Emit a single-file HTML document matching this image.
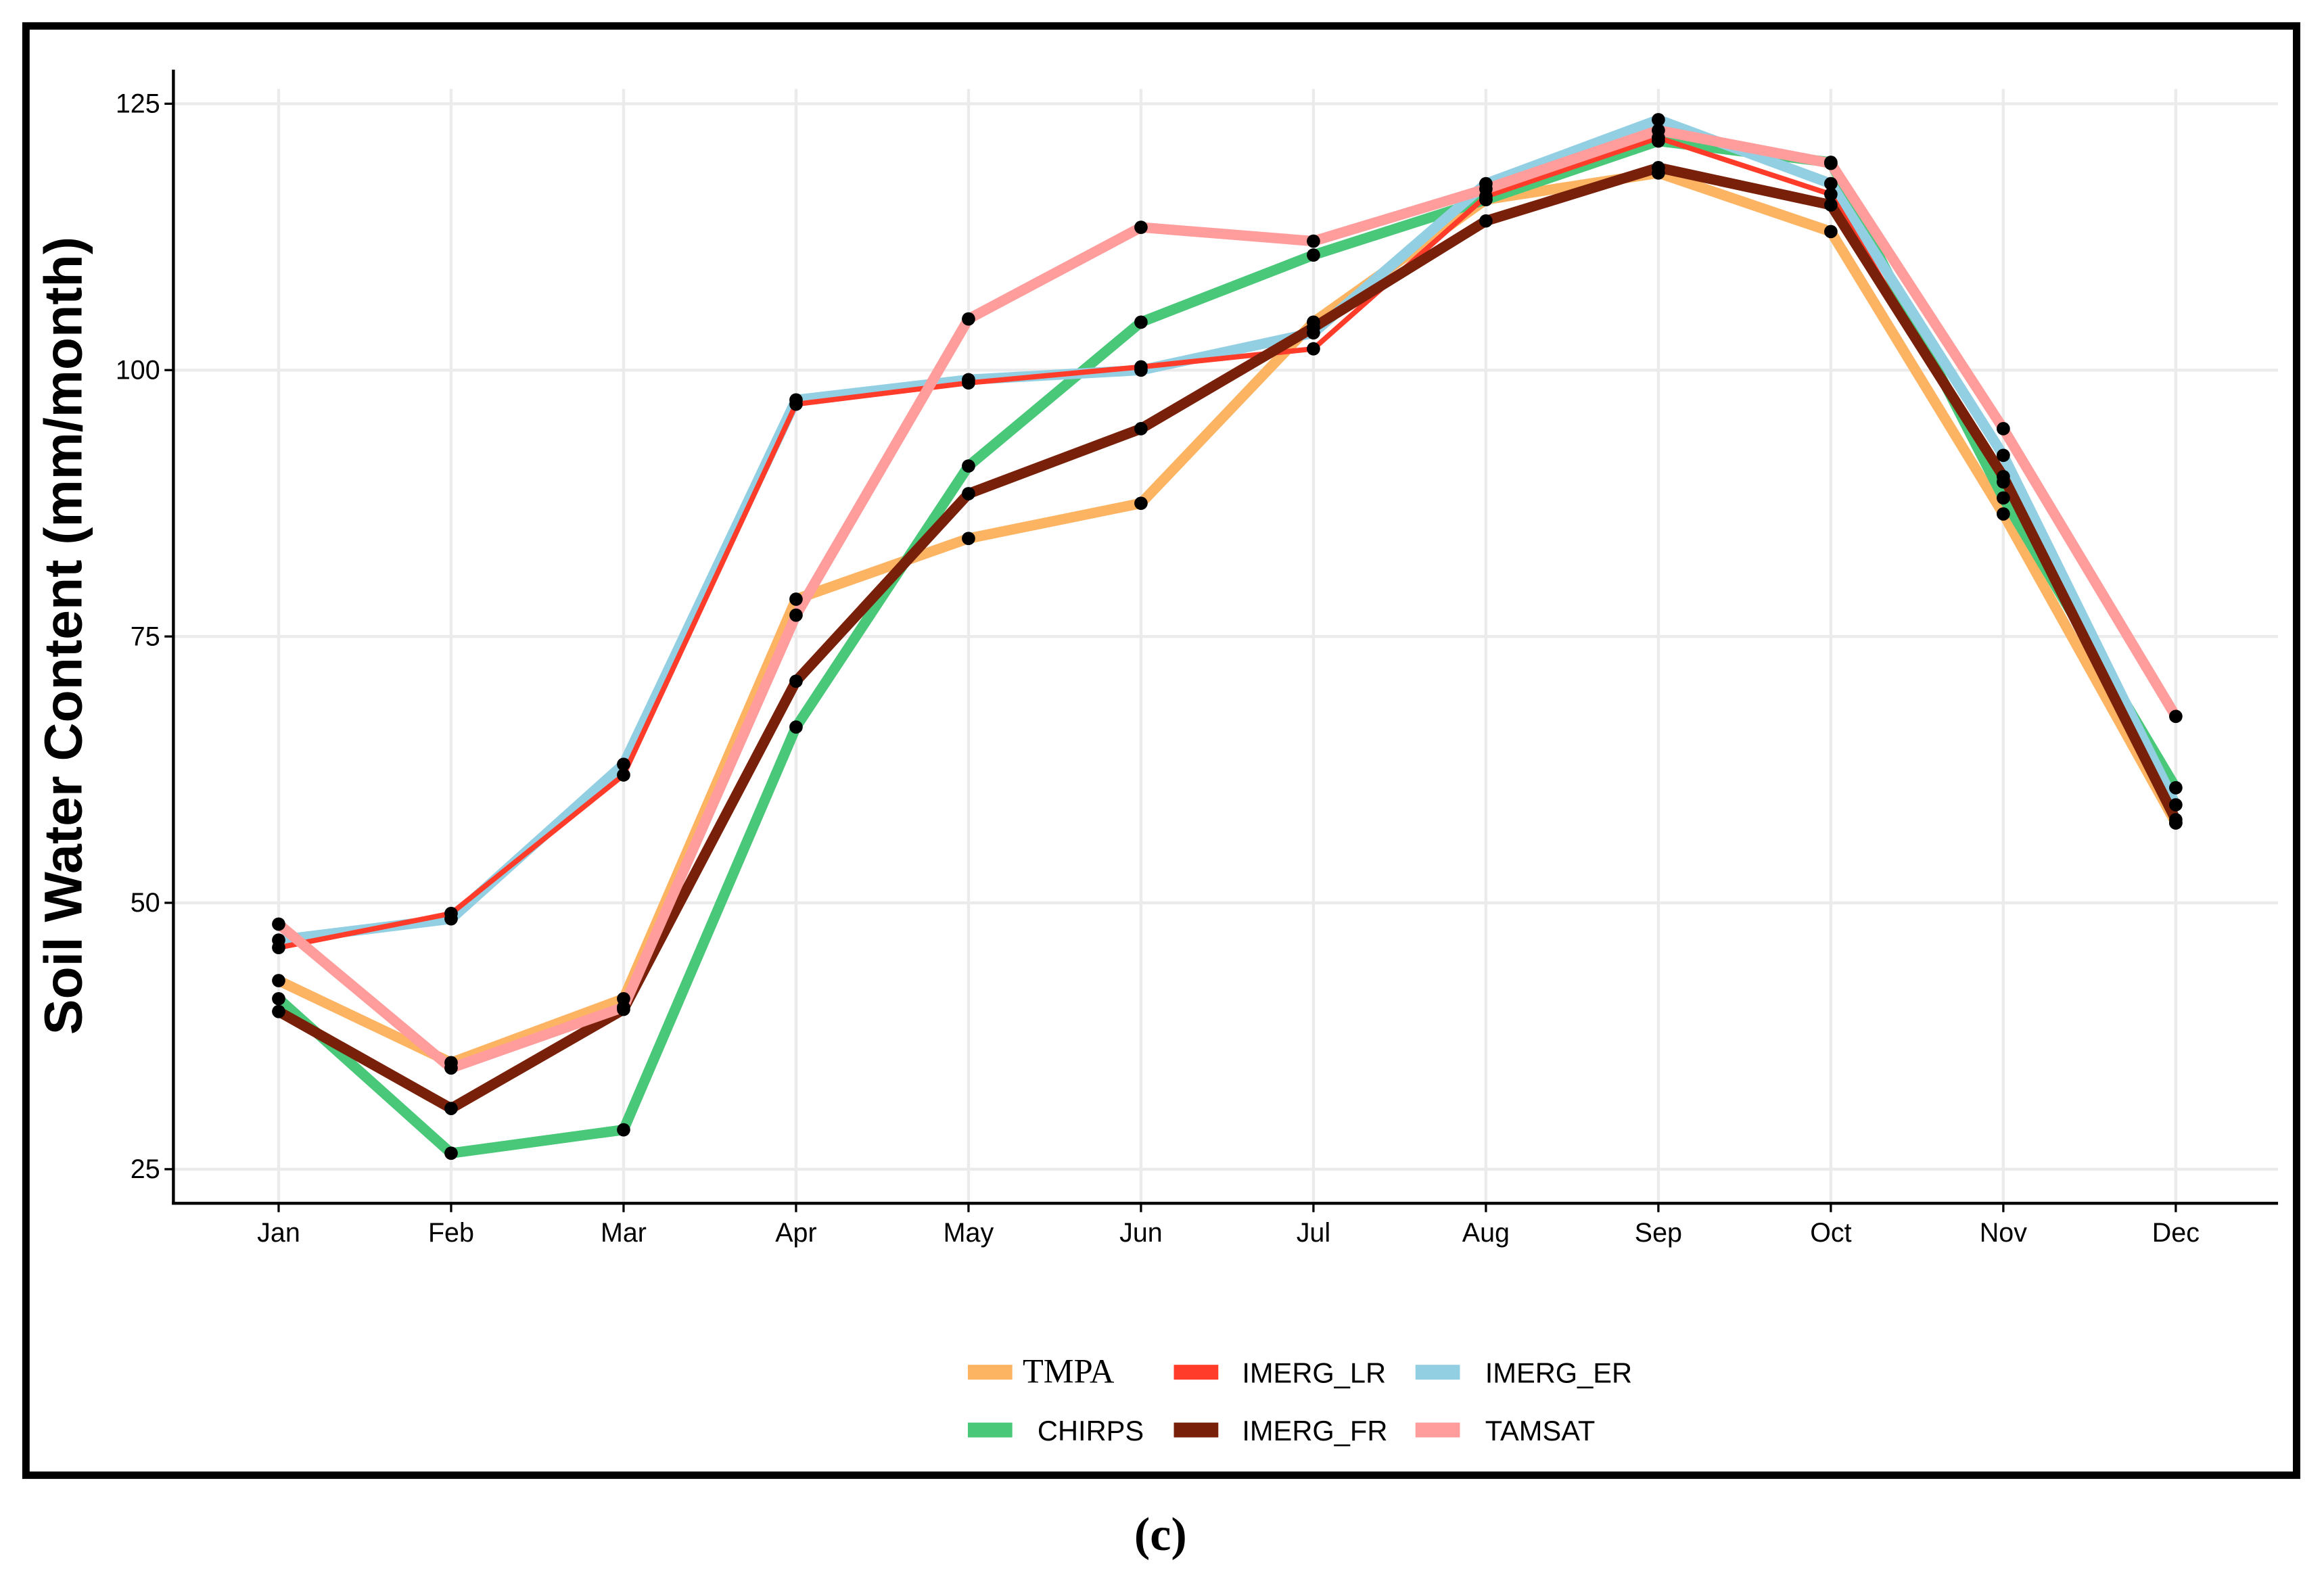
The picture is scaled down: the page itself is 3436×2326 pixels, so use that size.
<!DOCTYPE html>
<html><head><meta charset="utf-8"><style>
html,body{margin:0;padding:0;background:#fff;}
svg{display:block;}
</style></head><body>
<svg id="chart" width="3436" height="2326" viewBox="0 0 1568 1061.5" preserveAspectRatio="none" xmlns="http://www.w3.org/2000/svg" font-family="Liberation Sans, sans-serif">
<rect x="0" y="0" width="1568" height="1061.5" fill="#fff"/>
<rect x="17.5" y="17.5" width="1532" height="978" fill="none" stroke="#000" stroke-width="5"/>
<g id="grid"></g>
<g id="series"></g>
<g id="axes"></g>
<text transform="translate(55,429) rotate(-90)" text-anchor="middle" font-size="36" font-weight="bold">Soil Water Content (mm/month)</text>
<g id="legend"></g>
<text x="783" y="1046" text-anchor="middle" font-family="Liberation Serif, serif" font-size="32" font-weight="bold">(c)</text>
</svg>
<script>
const months = ["Jan","Feb","Mar","Apr","May","Jun","Jul","Aug","Sep","Oct","Nov","Dec"];
const yTicks = [25,50,75,100,125];
const tmpa    = [42.7,35.0,41.0,78.5,84.2,87.5,104.5,116.0,118.5,113.0,86.5,57.5];
const chirps  = [41.0,26.5,28.7,66.5,91.0,104.5,110.8,116.0,121.5,119.5,88.0,60.8];
const imergLR = [45.8,49.0,62.0,96.8,98.8,100.3,102.0,116.3,121.8,116.5,89.5,57.5];
const imergER = [46.5,48.5,63.0,97.2,99.1,100.0,103.5,117.5,123.5,117.5,92.0,59.2];
const imergFR = [39.8,30.7,40.0,70.8,88.4,94.5,104.0,114.0,119.0,115.5,90.0,57.8];
const tamsat  = [48.0,34.5,40.2,77.0,104.8,113.4,112.1,117.0,122.5,119.4,94.5,67.5];
const seriesNames = ["TMPA","CHIRPS","IMERG_LR","IMERG_ER","IMERG_FR","TAMSAT"];

const NS="http://www.w3.org/2000/svg";
function mk(tag,attrs,parent){const e=document.createElementNS(NS,tag);for(const k in attrs)e.setAttribute(k,attrs[k]);parent.appendChild(e);return e;}
const x = i => 188 + i*(1468-188)/11;
const y = v => 789 - (v-25)*(789-70)/100;

const grid=document.getElementById('grid');
yTicks.forEach(t=>{const l=mk('line',{x1:118,x2:1537,y1:y(t),y2:y(t),stroke:'#ebebeb','stroke-width':2},grid);

});
months.forEach((m,i)=>{const l=mk('line',{x1:x(i),x2:x(i),y1:60,y2:811,stroke:'#ebebeb','stroke-width':2},grid);

});

const axes=document.getElementById('axes');
let a=mk('line',{x1:117,x2:117,y1:47,y2:813,stroke:'#000','stroke-width':2},axes);


a=mk('line',{x1:116,x2:1537,y1:812,y2:812,stroke:'#000','stroke-width':2},axes);


yTicks.forEach(t=>{
 const tk=mk('line',{x1:111,x2:117,y1:y(t),y2:y(t),stroke:'#000','stroke-width':1.5},axes);
 
 
 const tx=mk('text',{x:108,y:y(t)+6,'text-anchor':'end','font-size':18},axes);
 tx.textContent=t;
 
 
});
months.forEach((m,i)=>{
 const tk=mk('line',{x1:x(i),x2:x(i),y1:812,y2:818,stroke:'#000','stroke-width':1.5},axes);
 
 
 const tx=mk('text',{x:x(i),y:838,'text-anchor':'middle','font-size':18},axes);
 tx.textContent=m;
 
 
});

const ser=document.getElementById('series');
const draws=[
 {name:'tmpa',vals:tmpa,color:'#FDB462',w:7},
 {name:'chirps',vals:chirps,color:'#48C878',w:7},
 {name:'imerg-er',vals:imergER,color:'#93CFE3',w:7},
 {name:'imerg-lr',vals:imergLR,color:'#FF3B2A',w:3.5},
 {name:'imerg-fr',vals:imergFR,color:'#782009',w:7},
 {name:'tamsat',vals:tamsat,color:'#FF9C9C',w:7}
];
draws.forEach(d=>{
 const p=mk('polyline',{points:d.vals.map((v,i)=>x(i)+','+y(v)).join(' '),fill:'none',stroke:d.color,'stroke-width':d.w,'stroke-linejoin':'round'},ser);
 
 
});
draws.forEach(d=>{
 d.vals.forEach((v,i)=>{
  const c=mk('circle',{cx:x(i),cy:y(v),r:4.5,fill:'#000'},ser);
  
  
 });
});

const leg=document.getElementById('legend');
const legItems=[
 {label:'TMPA',color:'#FDB462',sx:653,tx:690,ty:926,serif:true},
 {label:'IMERG_LR',color:'#FF3B2A',sx:792,tx:838,ty:926},
 {label:'IMERG_ER',color:'#93CFE3',sx:955,tx:1002,ty:926},
 {label:'CHIRPS',color:'#48C878',sx:653,tx:700,ty:965},
 {label:'IMERG_FR',color:'#782009',sx:792,tx:838,ty:965},
 {label:'TAMSAT',color:'#FF9C9C',sx:955,tx:1002,ty:965}
];
legItems.forEach(it=>{
 const r=mk('rect',{x:it.sx,y:it.ty-5,width:30,height:10,fill:it.color},leg);
 
 
 const t=mk('text',{x:it.tx,y:it.ty+7,'font-size':it.serif?23:19,'font-family':it.serif?'Liberation Serif, serif':'Liberation Sans, sans-serif'},leg);
 t.textContent=it.label;
 
 
});
</script>
</body></html>
